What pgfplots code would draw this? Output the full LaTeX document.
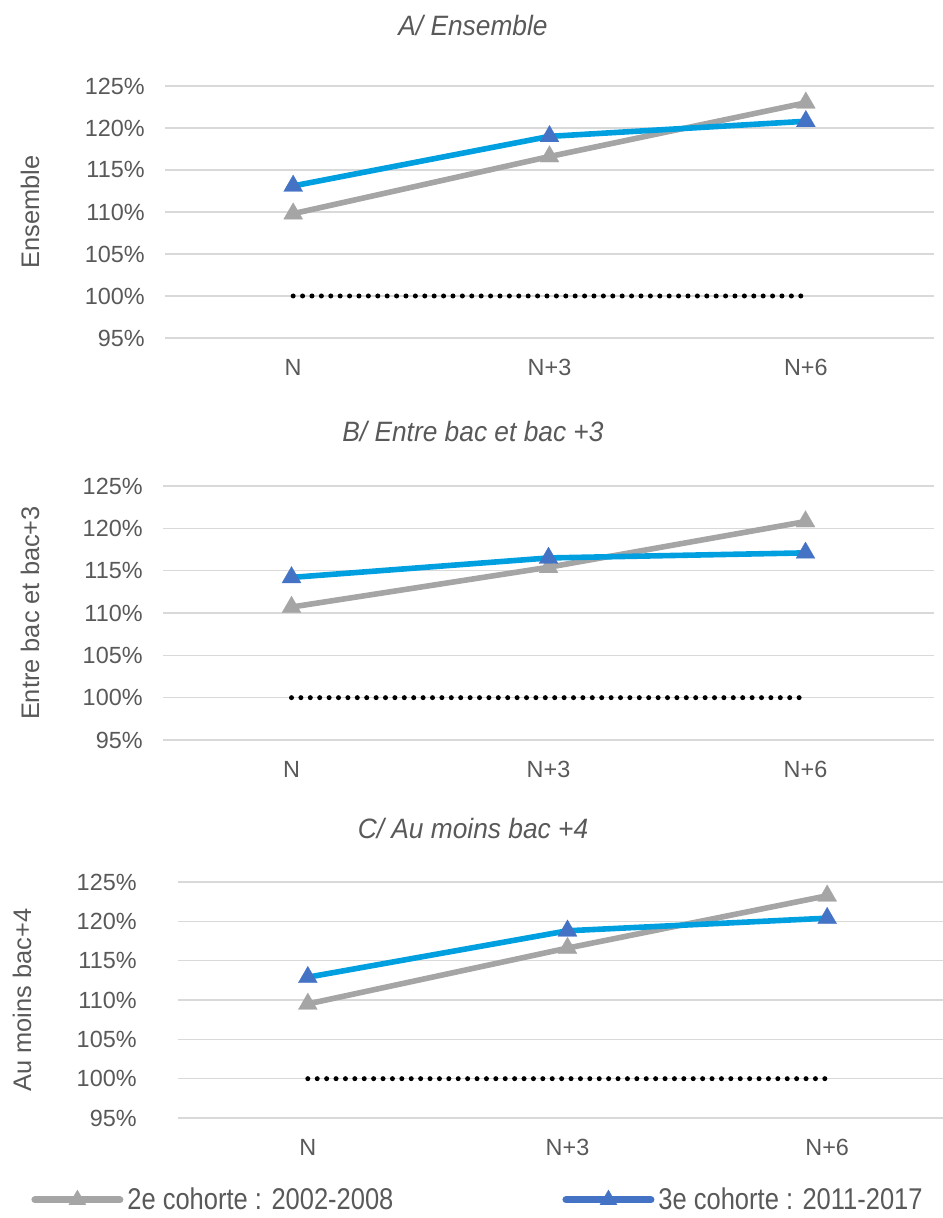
\documentclass[border=0pt]{standalone}
\usepackage{fontspec}
\setmainfont{Liberation Sans}
\usepackage{graphicx}
\usepackage{pgfplots}
\pgfplotsset{compat=1.18}
\definecolor{gr}{HTML}{A5A5A5}
\definecolor{cy}{HTML}{00A0E0}
\definecolor{bl}{HTML}{4472C4}
\definecolor{tx}{HTML}{595959}
\definecolor{gl}{HTML}{D9D9D9}

\pgfplotsset{
 panel/.style={
  scale only axis, anchor=south west,
  xmin=-0.5, xmax=2.5, ymin=95, ymax=125,
  xtick={0,1,2}, xticklabels={N,N+3,N+6},
  ytick={95,100,...,125},
  yticklabels={95\%,100\%,105\%,110\%,115\%,120\%,125\%},
  ymajorgrids, grid style={gl, line width=0.75pt},
  axis line style={draw=none}, major tick length=0pt,
  tick label style={font=\fontsize{11.7}{14}\selectfont, text=tx},
  xticklabel style={anchor=center, yshift=-14.5pt},
  yticklabel style={anchor=east, inner sep=0pt, xshift=-10pt},
  label style={font=\fontsize{12.7}{15}\selectfont, text=tx},
  title style={font=\fontsize{14}{16}\selectfont\itshape, text=tx},
  clip=false,
 },
 gs/.style={color=gr, line width=2.8pt, line join=round, mark=triangle*, mark size=5.5pt,
   mark options={solid, draw=gr, fill=gr, line width=0.1pt}},
 bs/.style={color=cy, line width=2.8pt, line join=round, mark=triangle*, mark size=5.5pt,
   mark options={solid, draw=bl, fill=bl, line width=0.1pt}},
 ds/.style={black, line width=2.5pt, line cap=round, dash pattern=on 0pt off 4.7pt},
}

\begin{document}
\begin{tikzpicture}
\useasboundingbox (0,0) rectangle (471pt,609pt);

% Panel A
\begin{axis}[panel, at={(82.5pt,440pt)}, width=384.5pt, height=126pt,
  title={\scalebox{0.94}[1]{A/ Ensemble}},
  title style={at={(0.4005,1.1905)}, anchor=center},
  ylabel={Ensemble},
  ylabel style={at={(axis description cs:-0.1756,0.5)}, anchor=center}]
\addplot[ds, forget plot] coordinates {(0,100) (2,100)};
\addplot[gs, forget plot] coordinates {(0,109.8) (1,116.6) (2,123.0)};
\addplot[bs, forget plot] coordinates {(0,113.1) (1,119.0) (2,120.8)};
\end{axis}

% Panel B
\begin{axis}[panel, at={(81.5pt,239pt)}, width=385.5pt, height=127pt,
  title={\scalebox{0.94}[1]{B/ Entre bac et bac +3}},
  title style={at={(0.402,1.169)}, anchor=center},
  ylabel={Entre bac et bac+3},
  ylabel style={at={(axis description cs:-0.1725,0.5)}, anchor=center}]
\addplot[ds, forget plot] coordinates {(0,100) (2,100)};
\addplot[gs, forget plot] coordinates {(0,110.7) (1,115.4) (2,120.8)};
\addplot[bs, forget plot] coordinates {(0,114.2) (1,116.5) (2,117.1)};
\end{axis}

% Panel C
\begin{axis}[panel, at={(89pt,50pt)}, width=389.5pt, height=118pt,
  title={\scalebox{0.94}[1]{C/ Au moins bac +4}},
  title style={at={(0.3787,1.174)}, anchor=center},
  ylabel={Au moins bac+4},
  ylabel style={at={(axis description cs:-0.2003,0.5)}, anchor=center},
  yticklabel style={xshift=-10.5pt},
  legend columns=2,
  legend cell align=left,
  legend image code/.code={\draw[mark repeat=2, mark phase=2, #1] plot coordinates {(0pt,0pt) (21.25pt,0pt) (42.5pt,0pt)};},
  legend style={at={(axis description cs:-0.1887,-0.347)}, anchor=west, draw=none, fill=none, inner sep=0pt,
    font=\fontsize{15}{17}\selectfont, text=tx,
    nodes={inner sep=2pt},
    /tikz/every even column/.append style={column sep=82.5pt}}]
\addplot[ds, forget plot] coordinates {(0,100) (2,100)};
\addplot[gs, forget plot] coordinates {(0,109.5) (1,116.6) (2,123.25)};
\addplot[bs, forget plot] coordinates {(0,112.9) (1,118.8) (2,120.4)};
\addlegendimage{color=gr, line width=3.5pt, line cap=round, mark=triangle*, mark size=5pt, mark options={solid, draw=gr, fill=gr, line width=0.1pt}}
\addlegendentry{\scalebox{0.85}[1]{2e cohorte : 2002-2008}}
\addlegendimage{color=bl, line width=3.5pt, line cap=round, mark=triangle*, mark size=5pt, mark options={solid, draw=bl, fill=bl, line width=0.1pt}}
\addlegendentry{\scalebox{0.85}[1]{3e cohorte : 2011-2017}}
\end{axis}
\end{tikzpicture}
\end{document}
